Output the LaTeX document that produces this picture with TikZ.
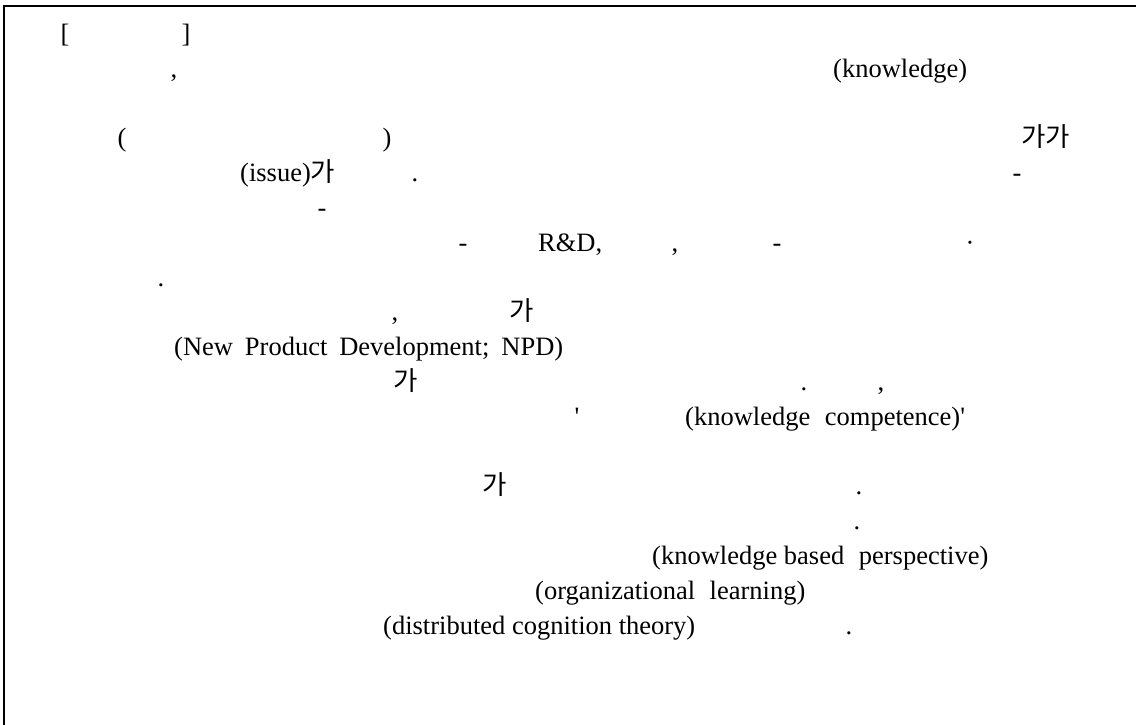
\documentclass[tikz,border=0pt]{standalone}
\usepackage{fontspec}
\setmainfont{Liberation Serif}
\newfontfamily\rawserif{Liberation Serif}[Ligatures=TeXOff]
\newfontfamily\cjk{Noto Sans CJK KR}
\newcommand{\gp}{\hspace{0.55em}}
\begin{document}
\begin{tikzpicture}[x=1pt,y=-1pt,
  txt/.style={inner sep=0pt,anchor=base west,font=\fontsize{26.5}{32}\selectfont},
  chr/.style={inner sep=0pt,anchor=base,font=\fontsize{26.5}{32}\selectfont},
  kor/.style={inner sep=0pt,anchor=base,font=\cjk\fontsize{26.5}{32}\selectfont},
  korw/.style={inner sep=0pt,anchor=base west,font=\cjk\fontsize{26.5}{32}\selectfont},
  frame/.style={line width=1.6pt,black}]
\useasboundingbox (0,0) rectangle (1136,724);
\draw[frame] (4,730) -- (4,6) -- (1140,6);
% row 0
\node[chr] (b1) at (65,42) {[};
\node[chr] (b2) at (186,42) {]};
% row 1
\node[chr] (c1) at (174,77) {,};
\node[txt] (k1) at (833,77) {(knowledge)};
% row 3
\node[chr] (p1) at (122,146) {(};
\node[chr] (p2) at (387,146) {)};
\node[korw] (g1) at (1021,146) {가가};
% row 4
\node[txt] (is) at (240,181) {(issue)\cjk 가};
\node[chr] (d1) at (415,181) {.};
\node[chr] (h1) at (1017,181) {-};
% row 5
\node[chr] (h2) at (322,216) {-};
% row 6
\node[chr] (h3) at (463,251) {-};
\node[txt] (rd) at (538,251) {R\&D,};
\node[chr] (c2) at (675,251) {,};
\node[chr] (h4) at (777,251) {-};
\node[chr] (md) at (970,251) {·};
% row 7
\node[chr] (d2) at (161,286) {.};
% row 8
\node[chr] (c3) at (395,320) {,};
\node[kor] (g2) at (522,320) {가};
% row 9
\node[txt] (np) at (174,355) {(New\hspace{0.45em}Product\hspace{0.45em}Development;\hspace{0.45em}NPD)};
% row 10
\node[kor] (g3) at (406,390) {가};
\node[chr] (d3) at (804,390) {.};
\node[chr] (c4) at (881,390) {,};
% row 11
\node[chr] (q1) at (577,425) {\rawserif '};
\node[txt] (kc) at (685,425) {\rawserif (knowledge\gp competence)'};
% row 13
\node[kor] (g4) at (495,494) {가};
\node[chr] (d4) at (859,494) {.};
% row 14
\node[chr] (d5) at (857,529) {.};
% rows 15-17
\node[txt] (kb) at (652,564) {(knowledge based\gp perspective)};
\node[txt] (ol) at (535,599) {(organizational\gp learning)};
\node[txt] (dc) at (383,634) {(distributed cognition theory)};
\node[chr] (d6) at (849,634) {.};
\end{tikzpicture}
\end{document}
